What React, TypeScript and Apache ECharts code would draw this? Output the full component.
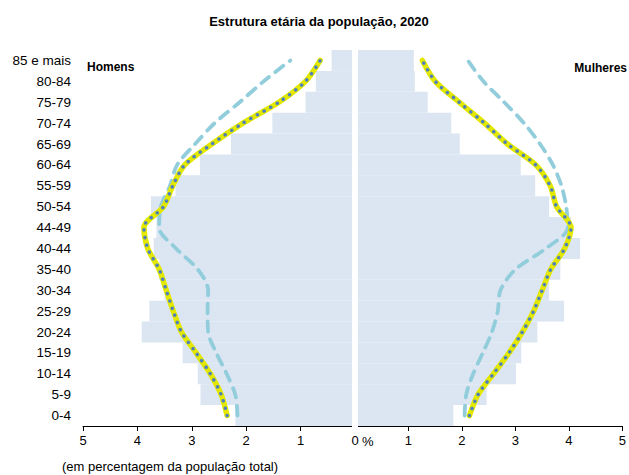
import React, { useEffect, useRef } from "react";
import * as echarts from "echarts";

const categories = ["0-4", "5-9", "10-14", "15-19", "20-24", "25-29", "30-34", "35-40", "40-44", "44-49", "50-54", "55-59", "60-64", "65-69", "70-74", "75-79", "80-84", "85 e mais"];
const menBars = [2.2, 2.84, 2.89, 3.17, 3.92, 3.78, 3.5, 3.6, 3.7, 3.65, 3.75, 3.3, 2.85, 2.28, 1.52, 0.91, 0.72, 0.43];
const womenBars = [1.84, 2.46, 3.01, 3.11, 3.41, 3.91, 3.63, 3.84, 4.21, 4.04, 3.63, 3.37, 3.1, 1.96, 1.8, 1.36, 1.12, 1.1];
const menLine = [2.35, 2.46, 2.66, 2.92, 3.19, 3.34, 3.47, 3.6, 3.81, 3.88, 3.52, 3.35, 3.13, 2.63, 2.06, 1.4, 0.91, 0.64];
const menDashed = [2.16, 2.2, 2.36, 2.55, 2.7, 2.71, 2.7, 2.89, 3.29, 3.6, 3.57, 3.4, 3.27, 2.94, 2.58, 2.12, 1.68, 1.19];
const womenLine = [2.14, 2.3, 2.59, 2.88, 3.13, 3.34, 3.5, 3.66, 3.92, 4.04, 3.77, 3.65, 3.38, 2.85, 2.42, 1.95, 1.5, 1.26];
const womenDashed = [2.05, 2.08, 2.21, 2.39, 2.56, 2.67, 2.72, 3.0, 3.57, 3.98, 3.95, 3.86, 3.7, 3.46, 3.16, 2.79, 2.4, 2.11];

const FONT = "Liberation Sans, Arial, sans-serif";
const BAR = "#dce6f2";
const YELLOW = "#e3e800";
const BLUE = "#4f81bd";
const TEAL = "#92cddc";

export default function App() {
  const ref = useRef<HTMLDivElement>(null);
  useEffect(() => {
    if (!ref.current) return;
    const chart = echarts.init(ref.current, null, { renderer: "svg" });
    const lineSeries = (data: number[], idx: number, kind: string, z: number) => {
      const base: any = {
        type: "line",
        data,
        xAxisIndex: idx,
        yAxisIndex: idx,
        symbol: "none",
        smooth: 0.3,
        z,
      };
      if (kind === "dash") base.lineStyle = { color: TEAL, width: 3.8, type: [10, 8], cap: "round" };
      if (kind === "yellow") base.lineStyle = { color: YELLOW, width: 5.5, type: "solid", cap: "round", join: "round" };
      if (kind === "dot") base.lineStyle = { color: BLUE, width: 3.5, type: [0.1, 7.5], cap: "round" };
      return base;
    };
    const xAxisCommon = (gridIndex: number, inverse: boolean) => ({
      type: "value",
      gridIndex,
      min: 0,
      max: 5,
      interval: 1,
      inverse,
      splitLine: { show: false },
      axisLine: { show: true, lineStyle: { color: "#000", width: 1 } },
      axisTick: { show: true, length: 5, lineStyle: { color: "#000" } },
      axisLabel: {
        color: "#000",
        fontFamily: FONT,
        fontSize: 13,
        margin: 8,
        formatter: (v: number) => (gridIndex === 1 && v === 0 ? "" : String(v)),
      },
    });
    chart.setOption({
      animation: false,
      backgroundColor: "#fff",
      title: {
        text: "Estrutura etária da população, 2020",
        left: 314,
        textAlign: "center",
        top: 10,
        textStyle: { fontFamily: FONT, fontSize: 13, fontWeight: "bold", color: "#000" },
      },
      grid: [
        { left: 83, right: 274, top: 50, bottom: 49 },
        { left: 355, right: 2, top: 50, bottom: 49 },
      ],
      xAxis: [xAxisCommon(0, true), xAxisCommon(1, false)],
      yAxis: [
        {
          type: "category",
          gridIndex: 0,
          data: categories,
          axisLine: { show: false },
          axisTick: { show: false },
          axisLabel: { color: "#000", fontFamily: FONT, fontSize: 13.5, margin: 12 },
        },
        {
          type: "category",
          gridIndex: 1,
          data: categories,
          axisLine: { show: false },
          axisTick: { show: false },
          axisLabel: { show: false },
        },
      ],
      series: [
        { type: "bar", data: menBars, xAxisIndex: 0, yAxisIndex: 0, barCategoryGap: "0%", itemStyle: { color: BAR }, z: 1 },
        { type: "bar", data: womenBars, xAxisIndex: 1, yAxisIndex: 1, barCategoryGap: "0%", itemStyle: { color: BAR }, z: 1 },
        lineSeries(menDashed, 0, "dash", 3),
        lineSeries(menLine, 0, "yellow", 4),
        lineSeries(menLine, 0, "dot", 5),
        lineSeries(womenDashed, 1, "dash", 3),
        lineSeries(womenLine, 1, "yellow", 4),
        lineSeries(womenLine, 1, "dot", 5),
      ],
      graphic: [
        { type: "rect", z: 100, shape: { x: 352, y: 45, width: 6, height: 388 }, style: { fill: "#fff" } },
        { type: "text", z: 101, x: 362, y: 441, style: { text: "%", fontFamily: FONT, fontSize: 13, fill: "#000", verticalAlign: "middle" } },
        { type: "text", z: 101, x: 87, y: 67, style: { text: "Homens", fontFamily: FONT, fontSize: 12, fontWeight: "bold", fill: "#000", verticalAlign: "middle" } },
        { type: "text", z: 101, x: 627, y: 68, style: { text: "Mulheres", fontFamily: FONT, fontSize: 12, fontWeight: "bold", fill: "#000", align: "right", verticalAlign: "middle" } },
        { type: "text", z: 101, x: 62, y: 466, style: { text: "(em percentagem da população total)", fontFamily: FONT, fontSize: 13, fill: "#000", verticalAlign: "middle" } },
      ],
    });
    return () => chart.dispose();
  }, []);
  return <div ref={ref} style={{ position: "fixed", left: 0, top: 0, width: 629, height: 475 }} />;
}
